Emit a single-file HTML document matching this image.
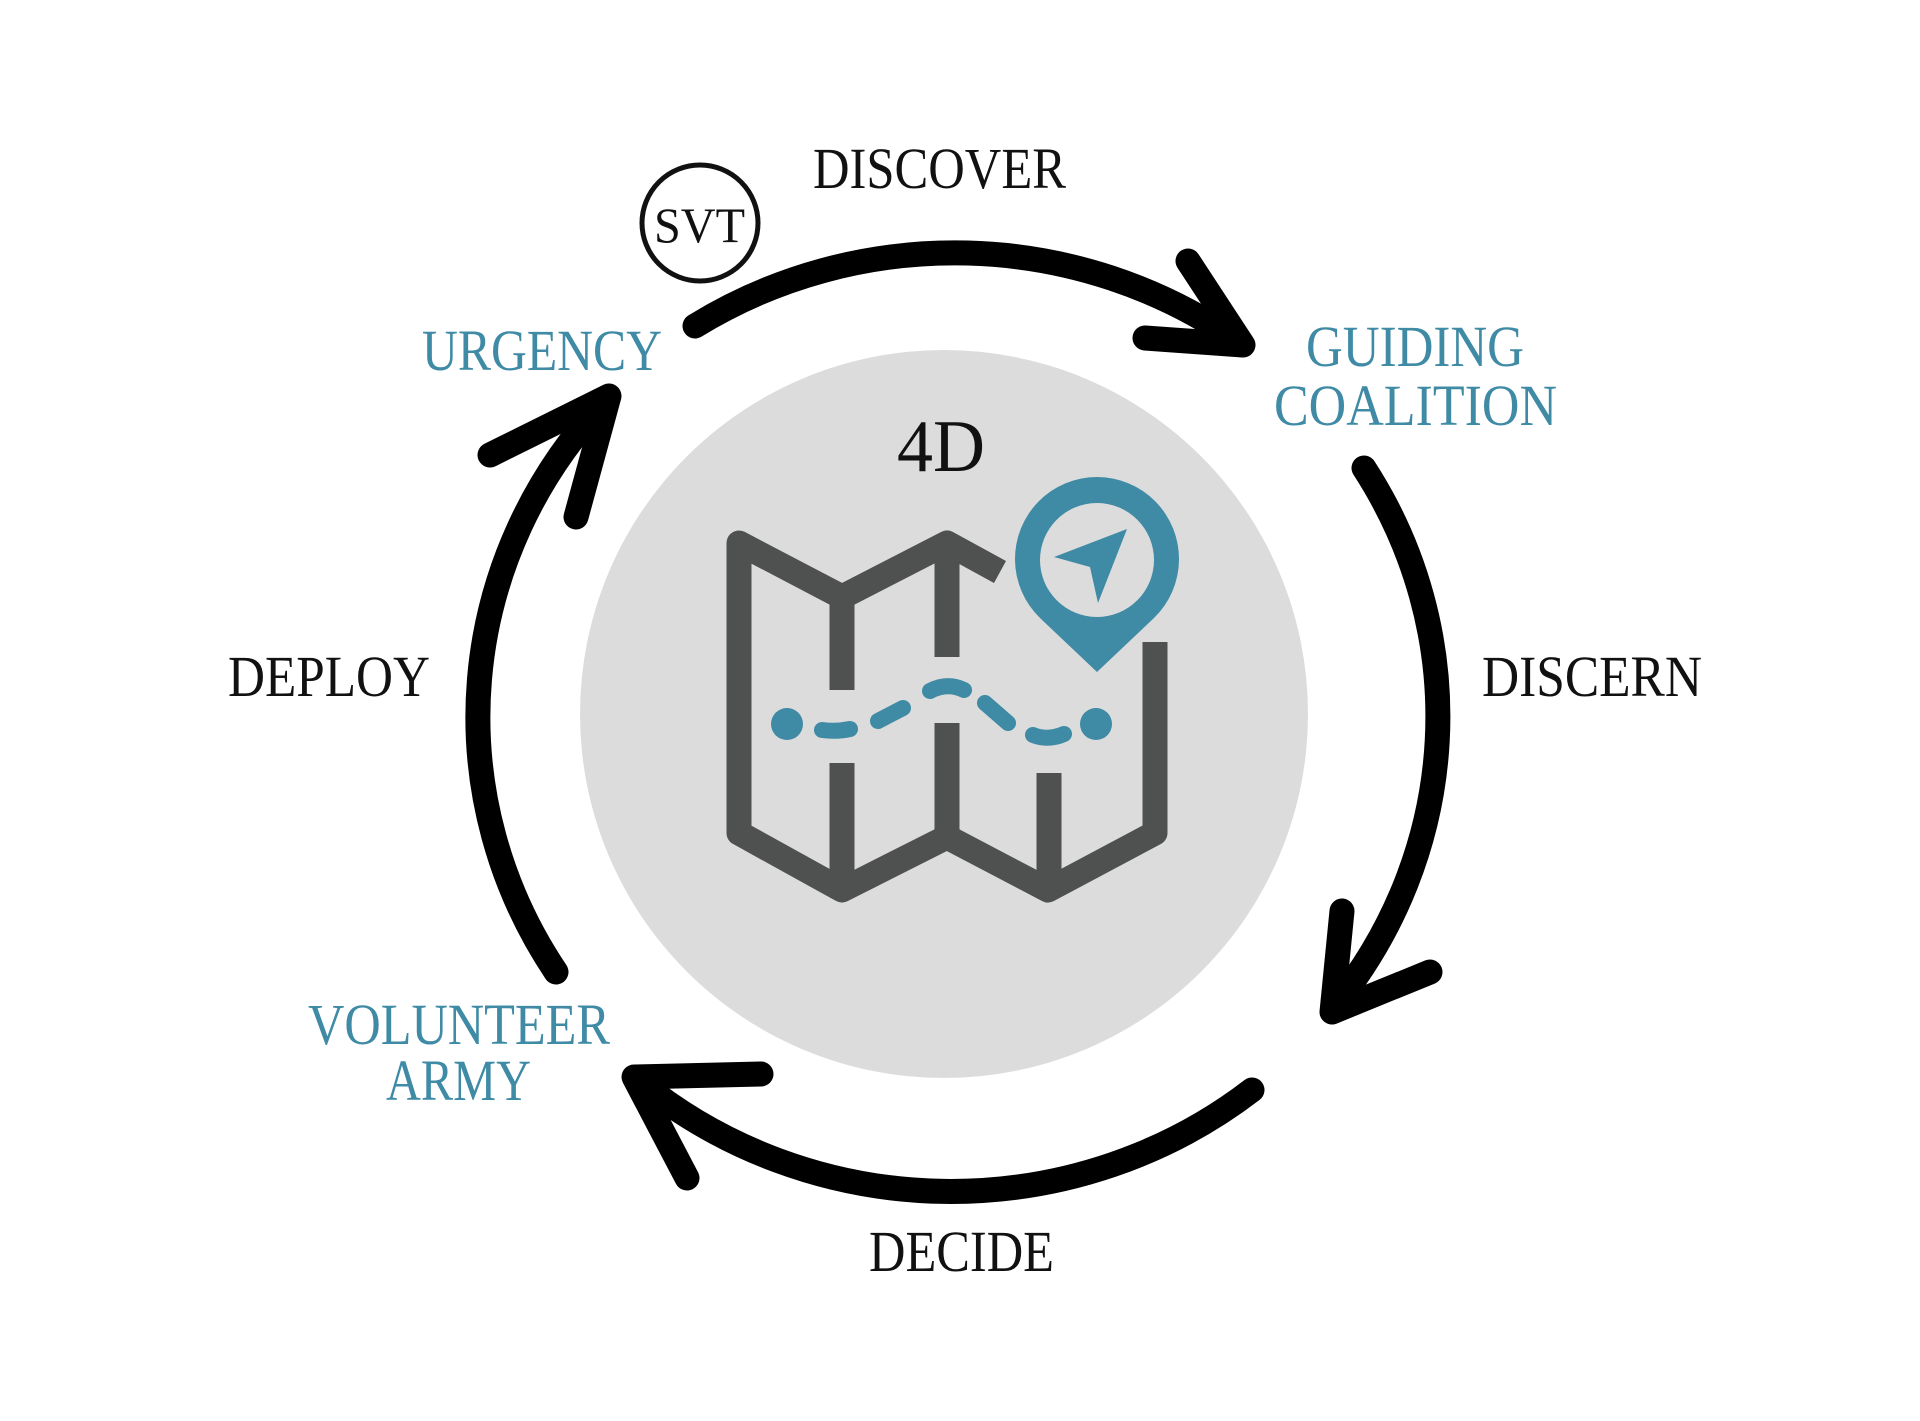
<!DOCTYPE html>
<html><head><meta charset="utf-8"><style>html,body{margin:0;padding:0;background:#fff;}svg{display:block}</style></head>
<body>
<svg width="1920" height="1421" viewBox="0 0 1920 1421" xmlns="http://www.w3.org/2000/svg">
<rect width="1920" height="1421" fill="#fff"/>
<circle cx="944" cy="714" r="364" fill="#dcdcdc"/>
<g fill="none" stroke="#000" stroke-width="25" stroke-linecap="round" stroke-linejoin="round">
<path d="M695 326 A484 468 0 0 1 1236 340"/>
<path d="M1188 261 L1243 345 L1145 338"/>
<path d="M1364 468 A484 468 0 0 1 1335 1005"/>
<path d="M1342 911 L1332 1012 L1430 972"/>
<path d="M1252 1090 A484 468 0 0 1 640 1082"/>
<path d="M761 1074 L634 1077 L687 1178"/>
<path d="M556 972 A484 468 0 0 1 604 402"/>
<path d="M490 455 L609 396 L576 517"/>
</g>
<circle cx="700" cy="223" r="58" fill="none" stroke="#111" stroke-width="5"/>
<g font-family="'Liberation Serif', serif" fill="#111">
<text x="654" y="242" font-size="50" textLength="91" lengthAdjust="spacingAndGlyphs">SVT</text>
<text x="813" y="188" font-size="58" textLength="253" lengthAdjust="spacingAndGlyphs">DISCOVER</text>
<text x="1482" y="696" font-size="58" textLength="220" lengthAdjust="spacingAndGlyphs">DISCERN</text>
<text x="228" y="696" font-size="58" textLength="202" lengthAdjust="spacingAndGlyphs">DEPLOY</text>
<text x="869" y="1271" font-size="58" textLength="185" lengthAdjust="spacingAndGlyphs">DECIDE</text>
<text x="897" y="471" font-size="74" textLength="88" lengthAdjust="spacingAndGlyphs">4D</text>
</g>
<g font-family="'Liberation Serif', serif" fill="#3f8aa5">
<text x="422" y="370" font-size="58" textLength="240" lengthAdjust="spacingAndGlyphs">URGENCY</text>
<text x="1306" y="366" font-size="58" textLength="218" lengthAdjust="spacingAndGlyphs">GUIDING</text>
<text x="1274" y="425" font-size="58" textLength="283" lengthAdjust="spacingAndGlyphs">COALITION</text>
<text x="308" y="1044" font-size="58" textLength="302" lengthAdjust="spacingAndGlyphs">VOLUNTEER</text>
<text x="386" y="1100" font-size="58" textLength="145" lengthAdjust="spacingAndGlyphs">ARMY</text>
</g>
<g fill="none" stroke="#4f5150" stroke-width="25" stroke-linejoin="round">
<path d="M1155 642 L1155 833 L1048 890 L947 837 L842 890 L739 833 L739 543 L842 597 L947 543 L1000 572"/>
</g>
<g stroke="#4f5150" stroke-width="25">
<line x1="842" y1="597" x2="842" y2="690"/>
<line x1="842" y1="763" x2="842" y2="885"/>
<line x1="947" y1="543" x2="947" y2="657"/>
<line x1="947" y1="723" x2="947" y2="837"/>
<line x1="1049" y1="773" x2="1049" y2="885"/>
</g>
<g fill="#3f8aa5"><circle cx="787" cy="724" r="16"/><circle cx="1096" cy="724" r="16"/></g>
<g fill="none" stroke="#3f8aa5" stroke-width="16" stroke-linecap="round">
<path d="M822 730 Q836 732 850 729"/>
<path d="M878 721 L903 708"/>
<path d="M930 691 Q947 682 964 690"/>
<path d="M985 703 L1008 723"/>
<path d="M1033 735 Q1048 741 1064 734"/>
</g>
<path d="M1097 672 L1040 618 A82 82 0 1 1 1154 618 Z" fill="#3f8aa5"/>
<circle cx="1097" cy="560" r="57" fill="#dcdcdc"/>
<path d="M1127 529 L1054 557 L1090 567 L1098 603 Z" fill="#3f8aa5"/>
</svg>
</body></html>
